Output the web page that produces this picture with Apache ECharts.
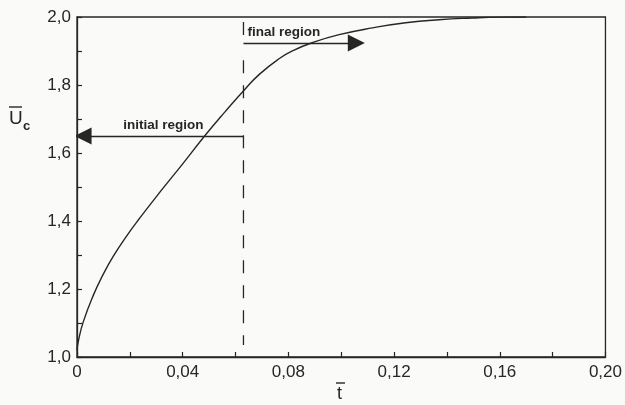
<!DOCTYPE html>
<html>
<head>
<meta charset="utf-8">
<script src="https://cdn.jsdelivr.net/npm/echarts@6/dist/echarts.min.js"></script>
<style>
  html, body { margin: 0; padding: 0; background: #fafaf8; }
  #chart { width: 625px; height: 405px; }
</style>
</head>
<body>
<div id="chart"></div>
<script>
// Dimensionless time and centre-line velocity
const tBar = [0, 0.0006, 0.0024, 0.0062, 0.0099, 0.0137, 0.0187, 0.0238, 0.0313, 0.040,
              0.0483, 0.056, 0.0634, 0.0691, 0.0766, 0.0817, 0.0892, 0.0992, 0.1118,
              0.1244, 0.137, 0.1496, 0.160, 0.170];
const uC = [1.02, 1.05, 1.104, 1.182, 1.243, 1.296, 1.355, 1.409, 1.484, 1.568,
            1.65, 1.721, 1.786, 1.832, 1.878, 1.901, 1.925, 1.948, 1.968,
            1.983, 1.992, 1.997, 1.9995, 2.0];

// Boundary between the two regions: label marker and dashed part
const boundaryT = 0.063;
const boundaryMarkU = [1.985, 1.947];
const boundaryDashU = [1.873, 1.035];

// Region arrows: label, from t, to t, at U
const regionLabels = ['initial region', 'final region'];
const regionFrom = [0.063, 0.063];
const regionTo = [0.0023, 0.1057];
const regionU = [1.65, 1.9235];

const xTicks = { min: 0, max: 0.20, step: 0.02 };
const yTicks = { min: 1.0, max: 2.0, step: 0.1 };

const ink = '#262626';
const font = 'Liberation Sans, Arial, sans-serif';

const chart = echarts.init(document.getElementById('chart'));

const option = {
  backgroundColor: '#fafaf8',
  animation: false,
  grid: {
    left: 77, right: 18, top: 17, bottom: 48,
    show: true, borderColor: ink, borderWidth: 1.3, backgroundColor: 'transparent'
  },
  xAxis: {
    type: 'value', min: xTicks.min, max: xTicks.max, interval: xTicks.step,
    axisLine: { lineStyle: { color: ink, width: 1.3 } },
    axisTick: { inside: true, length: 5, lineStyle: { color: ink, width: 1.2 } },
    splitLine: { show: false },
    axisLabel: {
      color: ink, fontFamily: font, fontSize: 17, margin: 7,
      showMinLabel: true, showMaxLabel: true,
      formatter: v => {
        const k = Math.round(v * 100);
        if (k % 4 !== 0) return '';
        return k === 0 ? '0' : v.toFixed(2).replace('.', ',');
      }
    }
  },
  yAxis: {
    type: 'value', min: yTicks.min, max: yTicks.max, interval: yTicks.step,
    axisLine: { lineStyle: { color: ink, width: 1.3 } },
    axisTick: { inside: true, length: 5, lineStyle: { color: ink, width: 1.2 } },
    splitLine: { show: false },
    axisLabel: {
      color: ink, fontFamily: font, fontSize: 17, margin: 6,
      formatter: v => {
        const k = Math.round(v * 10);
        if (k % 2 !== 0) return '';
        return v.toFixed(1).replace('.', ',');
      }
    }
  },
  series: [
    {
      name: 'Uc', type: 'line', smooth: 0.5, symbol: 'none',
      data: tBar.map((t, i) => [t, uC[i]]),
      lineStyle: { color: ink, width: 1.4 }
    },
    {
      name: 'boundary mark', type: 'line', symbol: 'none',
      data: boundaryMarkU.map(u => [boundaryT, u]),
      lineStyle: { color: ink, width: 1.3 }
    },
    {
      name: 'boundary', type: 'line', symbol: 'none',
      data: boundaryDashU.map(u => [boundaryT, u]),
      lineStyle: { color: ink, width: 1.3, type: [13, 12] }
    },
    {
      name: 'regions', type: 'lines', coordinateSystem: 'cartesian2d',
      symbol: ['none', 'triangle'], symbolSize: [9, 17],
      lineStyle: { color: ink, width: 1.3, opacity: 1 },
      itemStyle: { color: ink },
      label: {
        show: true, color: ink, fontFamily: font, fontSize: 13.5, fontWeight: 'bold',
        distance: 4, formatter: p => p.name
      },
      data: regionLabels.map((name, i) => ({
        name: name,
        coords: [[regionFrom[i], regionU[i]], [regionTo[i], regionU[i]]],
        label: { position: i === 0 ? 'middle' : 'insideStartTop' }
      }))
    }
  ],
  graphic: [
    { type: 'text', left: 9, top: 109,
      style: { text: 'U', fontFamily: font, fontSize: 19, fill: ink } },
    { type: 'line', shape: { x1: 9, y1: 107, x2: 22, y2: 107 },
      style: { stroke: ink, lineWidth: 1.4 } },
    { type: 'text', left: 23, top: 120,
      style: { text: 'c', fontFamily: font, fontSize: 13, fontWeight: 'bold', fill: ink } },
    { type: 'text', left: 337, top: 385,
      style: { text: 't', fontFamily: font, fontSize: 18, fill: ink } },
    { type: 'line', shape: { x1: 336, y1: 383, x2: 345, y2: 383 },
      style: { stroke: ink, lineWidth: 1.4 } }
  ]
};

chart.setOption(option);
</script>
</body>
</html>
